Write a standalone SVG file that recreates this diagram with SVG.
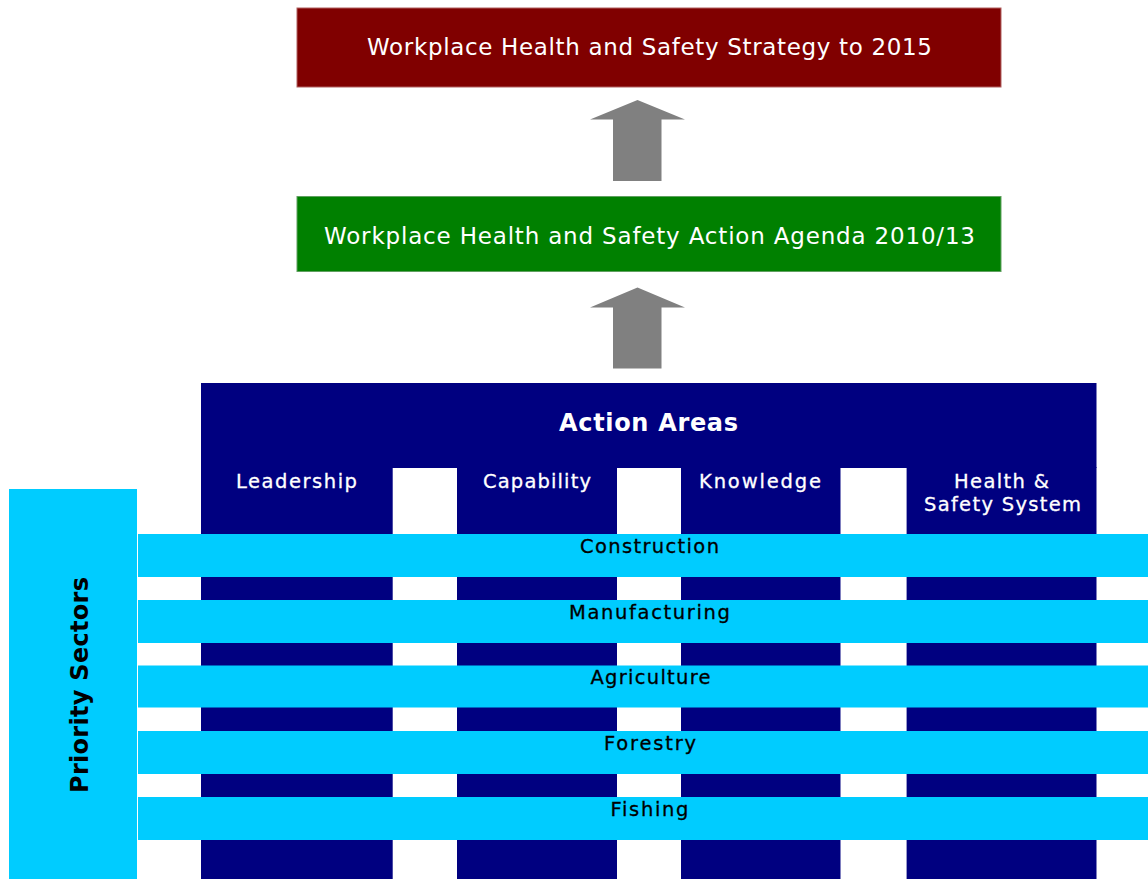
<svg xmlns="http://www.w3.org/2000/svg" width="1148" height="879" viewBox="0 0 1148 879">
  <style>
    .t { font-family: "DejaVu Sans", Verdana, sans-serif; text-anchor: middle; }
    .top { font-size: 23px; fill: #ffffff; }
    .col { font-size: 19.5px; fill: #ffffff; stroke: #ffffff; stroke-width: 0.3px; }
    .band { font-size: 19.5px; fill: #000000; stroke: #000000; stroke-width: 0.3px; }
    .navy { fill: #000080; }
    .cyan { fill: #00ccff; }
    .arrow { fill: #808080; }
  </style>
  <rect width="1148" height="879" fill="#ffffff"/>

  <g id="strategy">
    <rect x="297" y="8" width="704" height="79" fill="#800000" stroke="#b06060" stroke-width="1"/>
    <text class="t top" x="649.5" y="55" textLength="565" lengthAdjust="spacing">Workplace Health and Safety Strategy to 2015</text>
  </g>

  <g id="agenda">
    <rect x="297" y="196.5" width="704" height="75" fill="#008000" stroke="#60a060" stroke-width="1"/>
    <text class="t top" x="649.5" y="244" textLength="651" lengthAdjust="spacing">Workplace Health and Safety Action Agenda 2010/13</text>
  </g>

  <g id="action-areas">
    <rect class="navy" x="201" y="383" width="895.5" height="85"/>
    <rect class="navy" x="201" y="467" width="191.7" height="412"/>
    <rect class="navy" x="457" y="467" width="160" height="412"/>
    <rect class="navy" x="681" y="467" width="159.5" height="412"/>
    <rect class="navy" x="906.6" y="467" width="189.9" height="412"/>
    <text class="t" x="648.5" y="430.7" font-size="24" font-weight="bold" fill="#ffffff" textLength="179" lengthAdjust="spacing">Action Areas</text>
  </g>

  <g id="leadership">
    <text class="t col" x="296.5" y="487.5" textLength="121" lengthAdjust="spacing">Leadership</text>
  </g>
  <g id="capability">
    <text class="t col" x="537" y="487.5" textLength="108" lengthAdjust="spacing">Capability</text>
  </g>
  <g id="knowledge">
    <text class="t col" x="760" y="487.5" textLength="122" lengthAdjust="spacing">Knowledge</text>
  </g>
  <g id="hs-system">
    <text class="t col" x="1001.5" y="487.5" textLength="95" lengthAdjust="spacing">Health &amp;</text>
    <text class="t col" x="1002.5" y="510.7" textLength="157" lengthAdjust="spacing">Safety System</text>
  </g>

  <g id="priority-sectors">
    <rect class="cyan" x="9" y="489" width="128" height="390"/>
    <text class="t" transform="translate(88,685) rotate(-90)" font-size="24" font-weight="bold" fill="#000000" textLength="216" lengthAdjust="spacing">Priority Sectors</text>
  </g>

  <g id="construction">
    <rect class="cyan" x="138" y="534" width="1010" height="43"/>
    <text class="t band" x="649.5" y="552.5" textLength="139" lengthAdjust="spacing">Construction</text>
  </g>
  <g id="manufacturing">
    <rect class="cyan" x="138" y="600" width="1010" height="43"/>
    <text class="t band" x="649.5" y="618.5" textLength="161" lengthAdjust="spacing">Manufacturing</text>
  </g>
  <g id="agriculture">
    <rect class="cyan" x="138" y="665.5" width="1010" height="42"/>
    <text class="t band" x="650.5" y="684.3" textLength="120" lengthAdjust="spacing">Agriculture</text>
  </g>
  <g id="forestry">
    <rect class="cyan" x="138" y="731" width="1010" height="43"/>
    <text class="t band" x="650" y="750" textLength="92" lengthAdjust="spacing">Forestry</text>
  </g>
  <g id="fishing">
    <rect class="cyan" x="138" y="797" width="1010" height="43"/>
    <text class="t band" x="649.5" y="815.7" textLength="78" lengthAdjust="spacing">Fishing</text>
  </g>

  <g id="connectors">
    <polygon class="arrow" points="637.5,100 685,119.5 661.5,119.5 661.5,181 613,181 613,119.5 590,119.5"/>
    <polygon class="arrow" points="637.5,287.5 685,307.5 661.5,307.5 661.5,368.5 613,368.5 613,307.5 590,307.5"/>
  </g>
</svg>
